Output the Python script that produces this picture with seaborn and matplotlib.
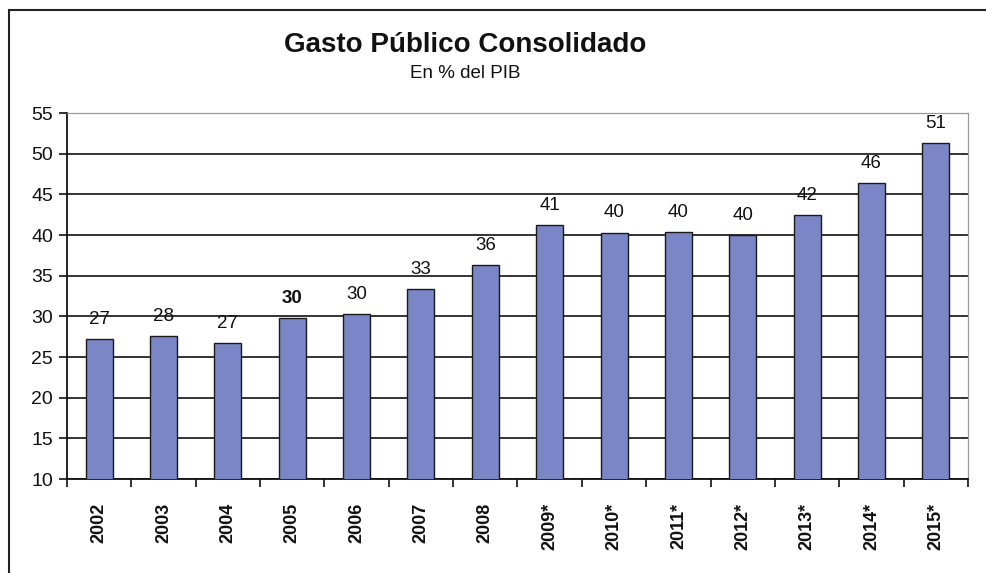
import matplotlib
matplotlib.use("Agg")
import matplotlib.pyplot as plt
import seaborn as sns
import pandas as pd
import numpy as np
from matplotlib.patches import Rectangle

# Consolidated public spending, % of GDP (* = estimate)
years = ["2002", "2003", "2004", "2005", "2006", "2007", "2008",
         "2009*", "2010*", "2011*", "2012*", "2013*", "2014*", "2015*"]
gasto = [27.2, 27.6, 26.7, 29.8, 30.3, 33.4, 36.3,
         41.2, 40.3, 40.4, 40.0, 42.4, 46.4, 51.3]
y_ticks = [10, 15, 20, 25, 30, 35, 40, 45, 50, 55]

df = pd.DataFrame({"anio": years, "gasto": gasto})

sns.set_theme(style="white")
plt.rcParams["font.family"] = ["Liberation Sans", "DejaVu Sans"]

fig = plt.figure(figsize=(9.86, 5.73), dpi=100)
W, H = 986, 573
ax = fig.add_axes([67 / W, 1 - 479 / H, (968 - 67) / W, (479 - 113) / H])

sns.barplot(data=df, x="anio", y="gasto", ax=ax, color="#7a86c6",
            saturation=1, width=0.42, edgecolor="#1a1a1a", linewidth=1.0,
            zorder=3)

ax.set_ylim(10, 55)
ax.set_xlim(-0.5, len(years) - 0.5)
ax.set_yticks(y_ticks)
ax.set_yticklabels([str(t) for t in y_ticks], fontsize=14, color="#111111")
ax.yaxis.grid(True, color="#111111", linewidth=1.2, zorder=0)
ax.set_axisbelow(True)
ax.set_xlabel("")
ax.set_ylabel("")

# category labels between boundary ticks
ax.set_xticks(np.arange(len(years)))
ax.set_xticklabels(years, rotation=90, fontsize=13, fontweight="bold",
                   color="#111111")
ax.tick_params(axis="x", length=0, pad=17)
ax.set_xticks(np.arange(len(years) + 1) - 0.5, minor=True)
ax.tick_params(axis="x", which="minor", length=6, width=1.2, color="#111111",
               direction="out", bottom=True)
ax.tick_params(axis="y", length=6, width=1.2, color="#111111",
               direction="out", left=True, pad=4)

for side in ["left", "bottom"]:
    ax.spines[side].set_color("#111111")
    ax.spines[side].set_linewidth(1.3)
for side in ["top", "right"]:
    ax.spines[side].set_color("#9a9a9a")
    ax.spines[side].set_linewidth(0.9)

# value labels above each bar
for i, (bar, v) in enumerate(zip(ax.patches, gasto)):
    ax.annotate(f"{v:.0f}", (bar.get_x() + bar.get_width() / 2, v),
                xytext=(0, 8), textcoords="offset points",
                ha="center", va="bottom", fontsize=13.5,
                fontweight="bold" if years[i] == "2005" else "normal",
                color="#111111")

fig.text(465 / W, 1 - 45 / H, "Gasto Público Consolidado", ha="center",
         va="center", fontsize=20, fontweight="bold", color="#111111")
fig.text(465 / W, 1 - 74 / H, "En % del PIB", ha="center", va="center",
         fontsize=13.5, color="#111111")

# outer chart frame
fig.patches.append(Rectangle((9 / W, -0.05), 1.2, 1 - 10 / H + 0.05,
                             transform=fig.transFigure, fill=False,
                             edgecolor="#222222", linewidth=1.5))

fig.savefig("out.png", dpi=100)
